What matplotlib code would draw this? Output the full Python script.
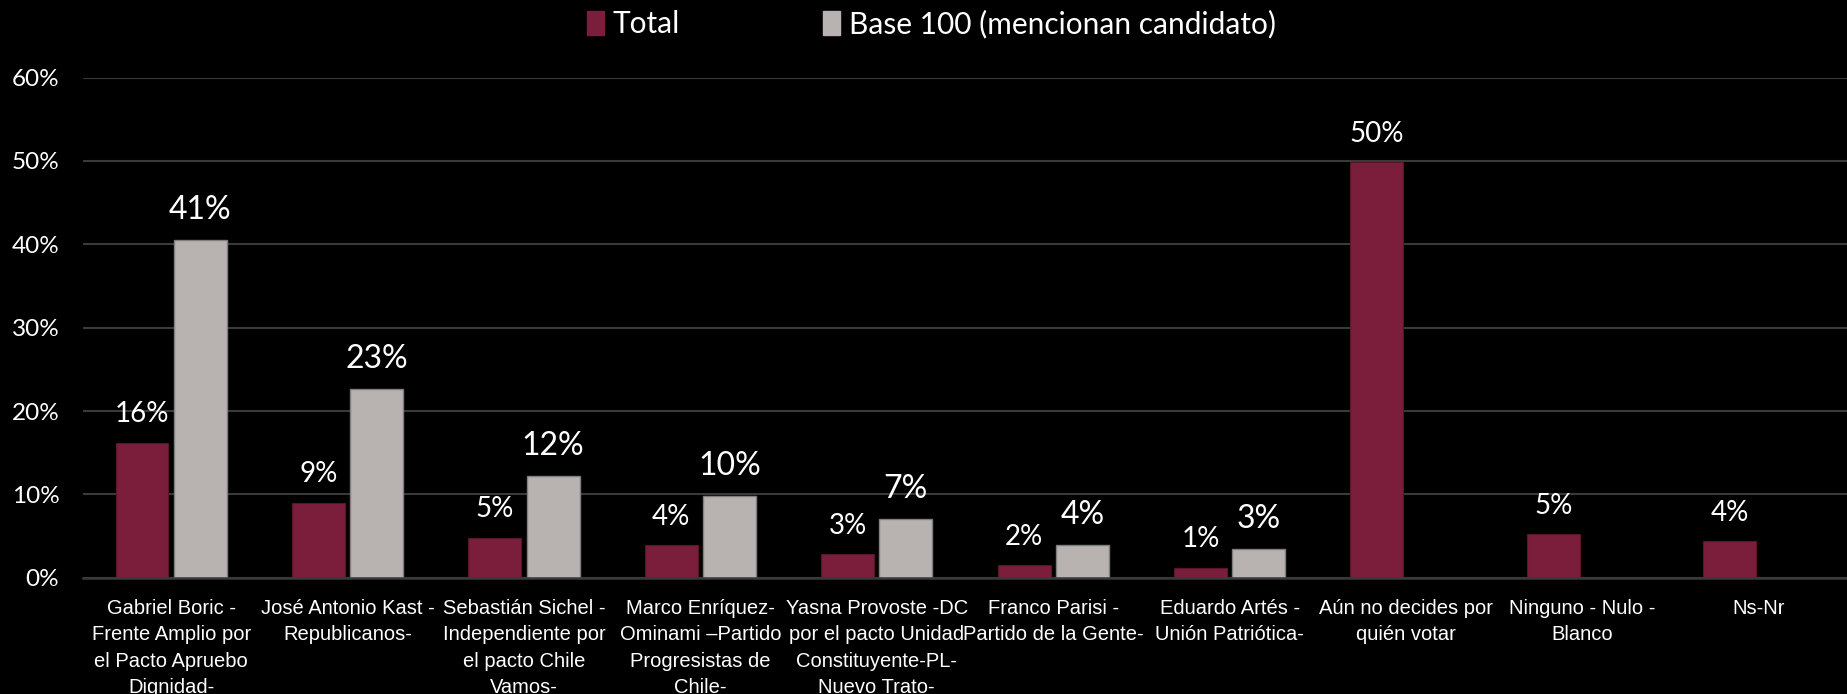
import matplotlib
matplotlib.use("Agg")
import matplotlib.pyplot as plt
import numpy as np
from matplotlib.patches import Patch

categories = [
    "Gabriel Boric -\nFrente Amplio por\nel Pacto Apruebo\nDignidad-",
    "José Antonio Kast -\nRepublicanos-",
    "Sebastián Sichel -\nIndependiente por\nel pacto Chile\nVamos-",
    "Marco Enríquez-\nOminami –Partido\nProgresistas de\nChile-",
    "Yasna Provoste -DC\npor el pacto Unidad\nConstituyente-PL-\nNuevo Trato-",
    "Franco Parisi -\nPartido de la Gente-",
    "Eduardo Artés -\nUnión Patriótica-",
    "Aún no decides por\nquién votar",
    "Ninguno - Nulo -\nBlanco",
    "Ns-Nr",
]
total = [0.162, 0.090, 0.048, 0.039, 0.028, 0.015, 0.012, 0.499, 0.052, 0.044]
base100 = [0.405, 0.226, 0.122, 0.098, 0.070, 0.039, 0.034, None, None, None]
total_labels = ["16%", "9%", "5%", "4%", "3%", "2%", "1%", "50%", "5%", "4%"]
base_labels = ["41%", "23%", "12%", "10%", "7%", "4%", "3%", None, None, None]
yticks = [0, 0.1, 0.2, 0.3, 0.4, 0.5, 0.6]
ytick_labels = ["0%", "10%", "20%", "30%", "40%", "50%", "60%"]
series_names = ["Total", "Base 100 (mencionan candidato)"]

C_TOTAL = "#7A1E3C"
C_BASE = "#B8B2B1"
GRID = "#3A3A3A"
FONT = ["Lato", "DejaVu Sans"]
NARROW = ["Liberation Sans Narrow", "Liberation Sans", "DejaVu Sans"]

fig = plt.figure(figsize=(18.47, 6.94), dpi=100, facecolor="black")
ax = fig.add_axes([0.0449, 0.1676, 0.9551, 0.7205], facecolor="black")

x = np.arange(len(categories))
w = 0.30
off = 0.165

ax.bar(x - off, total, width=w, color=C_TOTAL, edgecolor="#5A1529", linewidth=0.8, zorder=3)
for i, (v, lab) in enumerate(zip(total, total_labels)):
    ax.annotate(lab, (x[i] - off, v), xytext=(0, 11), textcoords="offset points",
                ha="center", va="bottom", color="white", fontsize=20, family=FONT)

bx = [x[i] + off for i, v in enumerate(base100) if v is not None]
bv = [v for v in base100 if v is not None]
ax.bar(bx, bv, width=w, color=C_BASE, edgecolor="#7F7F7F", linewidth=1.0, zorder=3)
for xi, v, lab in zip(bx, bv, [l for l in base_labels if l is not None]):
    ax.annotate(lab, (xi, v), xytext=(0, 11), textcoords="offset points",
                ha="center", va="bottom", color="white", fontsize=23, family=FONT)

ax.set_xlim(-0.5, len(categories) - 0.5)
ax.set_ylim(0, 0.6)
ax.set_yticks(yticks)
ax.set_yticklabels(ytick_labels, color="white", fontsize=17.5, family=FONT)
ax.set_xticks(x)
ax.set_xticklabels(categories, color="white", fontsize=14.5, family=NARROW, linespacing=1.5)
ax.tick_params(axis="y", length=0, pad=17)
ax.tick_params(axis="x", length=0, pad=15)
ax.yaxis.grid(True, color=GRID, linewidth=1.5, zorder=0)
ax.set_axisbelow(True)
for s in ["top", "right", "left"]:
    ax.spines[s].set_visible(False)
ax.spines["bottom"].set_color(GRID)
ax.spines["bottom"].set_linewidth(1.8)
ax.spines["bottom"].set_zorder(4)

handles = [Patch(facecolor=C_TOTAL, edgecolor=C_TOTAL), Patch(facecolor=C_BASE, edgecolor=C_BASE)]
leg = fig.legend(handles, series_names, loc="upper center", bbox_to_anchor=(0.5044, 1.025),
                 ncol=2, frameon=False, handlelength=0.55, handleheight=0.9,
                 handletextpad=0.3, columnspacing=4.8, prop={"family": FONT, "size": 21.5})
for t in leg.get_texts():
    t.set_color("white")

fig.savefig("out.png", dpi=100, facecolor="black")
